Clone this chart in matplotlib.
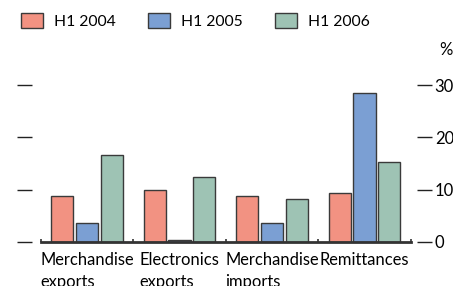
import matplotlib
matplotlib.use("Agg")
import matplotlib.pyplot as plt
import numpy as np

plt.rcParams['font.family'] = ['Lato', 'DejaVu Sans']

categories = ["Merchandise\nexports", "Electronics\nexports", "Merchandise\nimports", "Remittances"]
series_names = ["H1 2004", "H1 2005", "H1 2006"]
h1_2004 = [8.8, 10.0, 8.8, 9.3]
h1_2005 = [3.6, 0.3, 3.6, 28.4]
h1_2006 = [16.7, 12.4, 8.2, 15.2]
y_ticks = [0, 10, 20, 30]

colors = ["#f29282", "#7b9fd3", "#9ec3b4"]
edge = "#3a3a3a"

fig = plt.figure(figsize=(4.53, 2.86), dpi=100)
ax = fig.add_axes([17 / 453, 44 / 286, 415 / 453, 157 / 286])

x = np.arange(len(categories))
step = 0.268
width = 0.241
for i, (vals, name) in enumerate(zip([h1_2004, h1_2005, h1_2006], series_names)):
    ax.bar(x + (i - 1) * step, vals, width, color=colors[i], edgecolor=edge,
           linewidth=1.0, label=name, zorder=2)

ax.set_ylim(0, 30)
ax.set_xlim(-0.756, 3.73)

for s in ["top", "left", "right"]:
    ax.spines[s].set_visible(False)
ax.spines["bottom"].set_bounds(-0.5, 3.5)
ax.spines["bottom"].set_linewidth(2)
ax.spines["bottom"].set_color("#333333")
ax.spines["bottom"].set_zorder(3)

ax.set_yticks(y_ticks)
ax.yaxis.set_ticks_position("both")
ax.tick_params(axis="y", direction="in", length=11, width=1.0, color="#222222",
               labelleft=False, labelright=True, labelsize=12, pad=2)

ax.set_xticks(x)
ax.set_xticklabels(categories, fontsize=11.9, linespacing=1.45)
for lab in ax.get_xticklabels():
    lab.set_multialignment("left")
ax.set_xticks(np.arange(-0.5, 4.0, 1.0), minor=True)
ax.tick_params(axis="x", which="major", length=0, pad=7)
ax.tick_params(axis="x", which="minor", direction="in", length=2.5, width=1.2, color="#333333")

fig.legend(loc="upper left", bbox_to_anchor=(21 / 453, 1 - 13 / 286), ncol=3, frameon=False,
           fontsize=11.3, handlelength=1.4, handleheight=1.05, handletextpad=0.7,
           columnspacing=2.05, borderaxespad=0, borderpad=0)

fig.text(446 / 453, 1 - 50 / 286, "%", fontsize=12, ha="center", va="center")

fig.savefig("out.png", dpi=100)
